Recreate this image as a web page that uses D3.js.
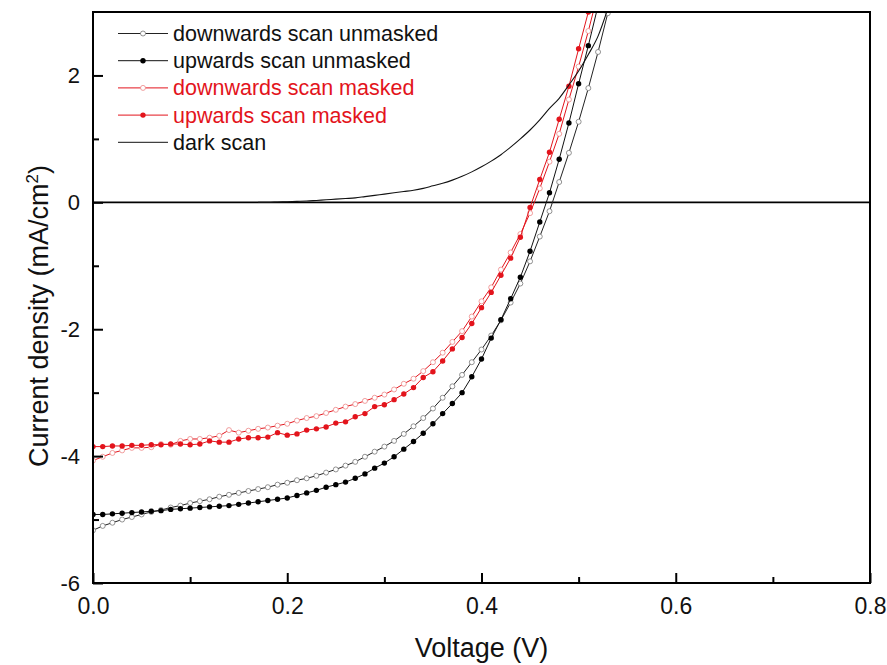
<!DOCTYPE html>
<html><head><meta charset="utf-8">
<script src="https://cdn.jsdelivr.net/npm/d3@7"></script>
<style>body{margin:0;background:#fff} svg text{font-family:"Liberation Sans",Arial,sans-serif}</style>
</head><body><svg id="chart" width="887" height="665"></svg>
<script>
// ---- data ----
const voltage = [0.00,0.01,0.02,0.03,0.04,0.05,0.06,0.07,0.08,0.09,
  0.10,0.11,0.12,0.13,0.14,0.15,0.16,0.17,0.18,0.19,
  0.20,0.21,0.22,0.23,0.24,0.25,0.26,0.27,0.28,0.29,
  0.30,0.31,0.32,0.33,0.34,0.35,0.36,0.37,0.38,0.39,
  0.40,0.41,0.42,0.43,0.44,0.45,0.46,0.47,0.48,0.49,
  0.50,0.51,0.52,0.53];
const downUnmasked = [-5.17,-5.10,-5.05,-5.00,-4.96,-4.92,-4.88,-4.85,-4.81,-4.78,
  -4.74,-4.71,-4.68,-4.64,-4.61,-4.58,-4.55,-4.52,-4.49,-4.45,
  -4.42,-4.38,-4.35,-4.31,-4.26,-4.21,-4.15,-4.09,-4.01,-3.93,
  -3.85,-3.76,-3.65,-3.53,-3.40,-3.25,-3.08,-2.90,-2.72,-2.52,
  -2.32,-2.10,-1.86,-1.58,-1.28,-0.93,-0.54,-0.14,0.32,0.78,
  1.27,1.80,2.37,2.98];
const upUnmasked = [-4.92,-4.92,-4.91,-4.90,-4.89,-4.88,-4.87,-4.86,-4.84,-4.83,
  -4.82,-4.81,-4.80,-4.79,-4.78,-4.76,-4.74,-4.72,-4.70,-4.68,
  -4.66,-4.62,-4.58,-4.54,-4.49,-4.45,-4.41,-4.35,-4.28,-4.19,
  -4.11,-4.01,-3.89,-3.77,-3.64,-3.49,-3.33,-3.17,-3.00,-2.75,
  -2.47,-2.14,-1.85,-1.52,-1.18,-0.77,-0.31,0.15,0.68,1.25,
  1.87,2.47,3.10,3.70];
const downMasked = [-4.07,-4.01,-3.95,-3.91,-3.87,-3.87,-3.86,-3.81,-3.82,-3.76,
  -3.73,-3.73,-3.71,-3.68,-3.59,-3.63,-3.60,-3.57,-3.55,-3.52,
  -3.49,-3.44,-3.40,-3.37,-3.32,-3.27,-3.22,-3.18,-3.13,-3.08,
  -3.03,-2.95,-2.86,-2.78,-2.66,-2.52,-2.37,-2.20,-2.03,-1.80,
  -1.56,-1.34,-1.06,-0.79,-0.50,-0.17,0.22,0.64,1.08,1.62,
  2.14,2.70,3.30,3.90];
const upMasked = [-3.85,-3.85,-3.84,-3.84,-3.83,-3.83,-3.82,-3.82,-3.81,-3.81,
  -3.82,-3.81,-3.76,-3.78,-3.78,-3.73,-3.71,-3.71,-3.70,-3.63,
  -3.67,-3.65,-3.59,-3.57,-3.54,-3.48,-3.46,-3.38,-3.33,-3.22,
  -3.19,-3.11,-3.02,-2.92,-2.76,-2.67,-2.50,-2.31,-2.13,-1.91,
  -1.66,-1.42,-1.15,-0.88,-0.55,-0.08,0.36,0.79,1.31,1.83,
  2.42,3.00,3.60,4.20];
const darkVoltage = [0.17,0.18,0.19,0.20,0.21,0.22,0.23,0.24,0.25,0.26,
  0.27,0.28,0.29,0.30,0.31,0.32,0.33,0.34,0.35,0.36,
  0.37,0.38,0.39,0.40,0.41,0.42,0.43,0.44,0.45,0.46,
  0.47,0.48,0.49,0.50,0.51,0.52,0.53];
const darkCurrent = [0.00,0.00,0.005,0.01,0.015,0.02,0.03,0.04,0.05,0.06,
  0.07,0.09,0.11,0.13,0.15,0.17,0.19,0.22,0.26,0.30,
  0.35,0.41,0.48,0.56,0.65,0.75,0.87,1.00,1.14,1.30,
  1.48,1.64,1.85,2.07,2.33,2.62,3.05];
const legendLabels = ["downwards scan unmasked","upwards scan unmasked","downwards scan masked","upwards scan masked","dark scan"];
const xMajorTicks = [0.0,0.2,0.4,0.6,0.8];
const xMinorTicks = [0.1,0.3,0.5,0.7];
const yMajorTicks = [-6,-4,-2,0,2];
const yMinorTicks = [-5,-3,-1,1];

// ---- setup ----
const RED = "#e3141c";
const svg = d3.select("#chart");
const L=93, R=870, T=12, B=583;
const x = d3.scaleLinear().domain([0,0.8]).range([L,R]);
const y = d3.scaleLinear().domain([-6,3]).range([B,T]);

svg.append("defs").append("clipPath").attr("id","clip")
  .append("rect").attr("x",L).attr("y",T).attr("width",R-L).attr("height",B-T);

// zero line
svg.append("line").attr("x1",L).attr("x2",R).attr("y1",y(0)).attr("y2",y(0))
  .attr("stroke","#000").attr("stroke-width",1.6);

const series = [
  {vals:downUnmasked, color:"#222", mcolor:"#777", filled:false},
  {vals:upUnmasked, color:"#111", mcolor:"#000", filled:true},
  {vals:downMasked, color:RED, mcolor:"#e88", filled:false},
  {vals:upMasked, color:RED, mcolor:RED, filled:true}
];

const plot = svg.append("g").attr("clip-path","url(#clip)");
const line = d3.line().x(d=>x(d[0])).y(d=>y(d[1]));

series.forEach(s=>{
  const pts = voltage.map((v,i)=>[v,s.vals[i]]);
  plot.append("path").datum(pts).attr("d",line).attr("fill","none")
    .attr("stroke",s.color).attr("stroke-width",1);
  plot.selectAll(null).data(pts).enter().append("circle")
    .attr("cx",d=>x(d[0])).attr("cy",d=>y(d[1]))
    .attr("r",s.filled?2.7:2.5)
    .attr("fill",s.filled?s.mcolor:"#fff")
    .attr("stroke",s.mcolor).attr("stroke-width",s.filled?0:0.8);
});

const darkPts = darkVoltage.map((v,i)=>[v,darkCurrent[i]]);
plot.append("path").datum(darkPts)
  .attr("d",d3.line().x(d=>x(d[0])).y(d=>y(d[1])).curve(d3.curveMonotoneX))
  .attr("fill","none").attr("stroke","#111").attr("stroke-width",1.1);

// ---- axes ----
const fmtX = d3.format(".1f");
const fmtY = d => String(d);
const xAx = svg.append("g").attr("transform",`translate(0,${B})`)
  .call(d3.axisBottom(x).tickValues(xMajorTicks).tickSize(-10).tickPadding(15).tickFormat(fmtX));
const xAxMin = svg.append("g").attr("transform",`translate(0,${B})`)
  .call(d3.axisBottom(x).tickValues(xMinorTicks).tickSize(-6).tickFormat(""));
const yAx = svg.append("g").attr("transform",`translate(${L},0)`)
  .call(d3.axisLeft(y).tickValues(yMajorTicks).tickSize(-10).tickPadding(13).tickFormat(fmtY));
const yAxMin = svg.append("g").attr("transform",`translate(${L},0)`)
  .call(d3.axisLeft(y).tickValues(yMinorTicks).tickSize(-6).tickFormat(""));
[xAx,xAxMin,yAx,yAxMin].forEach(g=>{
  g.select(".domain").remove();
  g.selectAll(".tick line").attr("stroke","#000").attr("stroke-width",2);
  g.selectAll("text").attr("fill","#111").style("font-size","22px")
    .style("font-family",'"Liberation Sans",Arial,sans-serif');
});
xAx.selectAll("text").style("font-size","23px");

// frame
svg.append("rect").attr("x",L).attr("y",T).attr("width",R-L).attr("height",B-T)
  .attr("fill","none").attr("stroke","#000").attr("stroke-width",2);

// titles
svg.append("text").attr("x",(L+R)/2).attr("y",657).attr("text-anchor","middle")
  .style("font-size","27px").attr("fill","#111").text("Voltage (V)");
const yt = svg.append("text").attr("transform","translate(48,316) rotate(-90)")
  .attr("text-anchor","middle").style("font-size","27px").attr("fill","#111");
yt.append("tspan").text("Current density (mA/cm");
yt.append("tspan").attr("dy","-10").style("font-size","17px").text("2");
yt.append("tspan").attr("dy","10").text(")");

// legend
const leg = svg.append("g");
const legItems = [
  {c:"#222", m:"#777", f:false, tc:"#111"},
  {c:"#111", m:"#000", f:true, tc:"#111"},
  {c:RED, m:"#e88", f:false, tc:RED},
  {c:RED, m:RED, f:true, tc:RED},
  {c:"#111", m:null, f:false, tc:"#111"}
];
legItems.forEach((it,i)=>{
  const ly = 33.5 + i*27.2;
  leg.append("line").attr("x1",118).attr("x2",168).attr("y1",ly).attr("y2",ly)
    .attr("stroke",it.c).attr("stroke-width",1);
  if(it.m){
    leg.append("circle").attr("cx",143).attr("cy",ly).attr("r",it.f?2.7:2.5)
      .attr("fill",it.f?it.m:"#fff").attr("stroke",it.m).attr("stroke-width",it.f?0:0.8);
  }
  leg.append("text").attr("x",173).attr("y",ly+7.5).style("font-size","21.5px")
    .attr("fill",it.tc).text(legendLabels[i]);
});
</script></body></html>
